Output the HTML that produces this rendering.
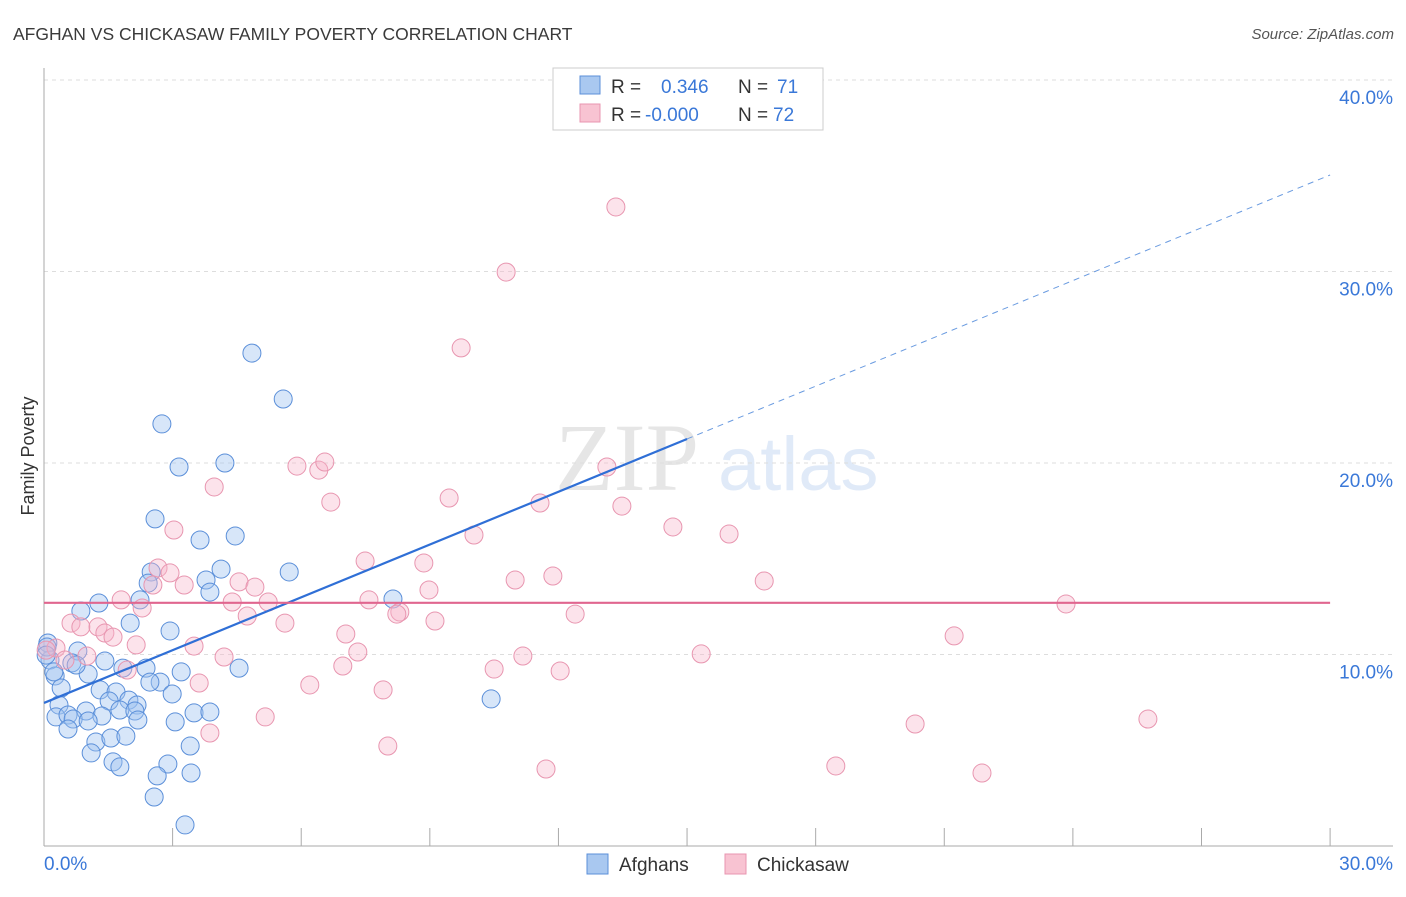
<!DOCTYPE html>
<html><head><meta charset="utf-8"><style>
body{margin:0;background:#fff;font-family:"Liberation Sans",sans-serif;}
</style></head><body>
<svg id="chart" width="1406" height="892" xmlns="http://www.w3.org/2000/svg" font-family="Liberation Sans, sans-serif">
<text x="13" y="40" font-size="17.5" fill="#3a3a3a">AFGHAN VS CHICKASAW FAMILY POVERTY CORRELATION CHART</text>
<text x="1394" y="39" font-size="15" fill="#555" text-anchor="end" font-style="italic">Source: ZipAtlas.com</text>
<g opacity="0.18">
<text x="555" y="490" font-size="96" font-family="Liberation Serif, serif" fill="#777">ZIP</text>
<text x="718" y="490" font-size="76" fill="#5b8fd9">atlas</text>
</g>
<g id="grid"></g>
<g id="axes"></g>
<text transform="translate(34,456) rotate(-90)" font-size="18" fill="#333" text-anchor="middle">Family Poverty</text>
<g id="pts"></g>
<g id="lines"></g>
<g>
<rect x="553" y="68" width="270" height="62" fill="#fff" stroke="#ccc"/>
<rect x="580" y="76" width="20" height="18" fill="#a9c8f0" stroke="#5b8fd9"/>
<rect x="580" y="104" width="20" height="18" fill="#f8c3d2" stroke="#e896b0"/>
<text x="611" y="93" font-size="19" fill="#333">R =</text>
<text x="661" y="93" font-size="19" fill="#3a78d8">0.346</text>
<text x="738" y="93" font-size="19" fill="#333">N =</text>
<text x="777" y="93" font-size="19" fill="#3a78d8">71</text>
<text x="611" y="121" font-size="19" fill="#333">R =</text>
<text x="645" y="121" font-size="19" fill="#3a78d8">-0.000</text>
<text x="738" y="121" font-size="19" fill="#333">N =</text>
<text x="773" y="121" font-size="19" fill="#3a78d8">72</text>
</g>
<g>
<rect x="587" y="854" width="21" height="20" fill="#a9c8f0" stroke="#5b8fd9"/>
<text x="619" y="871" font-size="19" fill="#333">Afghans</text>
<rect x="725" y="854" width="21" height="20" fill="#f8c3d2" stroke="#e896b0"/>
<text x="757" y="871" font-size="19" fill="#333">Chickasaw</text>
</g>
</svg>
<script>
const blueX=[4.85,5.58,2.75,3.15,4.22,2.59,3.64,4.46,2.50,5.72,2.43,4.13,3.78,3.87,1.28,2.24,0.86,2.01,2.94,8.14,0.09,0.79,1.42,0.14,0.65,1.84,2.38,3.20,4.55,0.26,1.03,1.31,2.71,0.40,1.68,1.98,2.99,1.52,2.17,10.43,0.35,1.77,2.12,3.50,3.87,2.19,0.98,1.35,0.28,0.56,0.68,1.03,3.06,0.56,1.21,1.56,1.91,1.10,3.41,1.61,1.77,2.89,2.64,3.43,2.57,3.29,0.07,0.05,0.23,0.75,2.47];
const blueY=[25.74,23.34,22.04,19.79,20.0,17.08,15.98,16.19,14.31,14.31,13.73,14.46,13.89,13.26,12.69,12.85,12.27,11.64,11.23,12.90,10.60,10.18,9.66,9.71,9.56,9.29,9.29,9.09,9.29,8.88,8.98,8.15,8.56,8.25,8.04,7.62,7.94,7.57,7.36,7.68,7.36,7.10,7.05,6.95,7.00,6.58,7.05,6.79,6.74,6.84,6.63,6.53,6.48,6.11,5.43,5.64,5.74,4.86,5.22,4.39,4.13,4.28,3.66,3.81,2.56,1.10,10.39,9.97,9.09,9.45,8.56];
const pinkX=[13.34,10.78,9.73,13.13,5.90,6.41,6.55,3.97,9.45,6.69,11.57,13.48,3.03,10.03,14.67,15.98,7.49,8.86,2.66,2.94,11.87,10.99,16.80,3.27,2.54,4.55,4.92,8.98,1.80,2.29,4.39,5.23,7.58,23.84,8.30,8.23,0.63,0.86,1.26,1.42,1.61,12.39,9.12,5.62,4.74,7.04,21.23,2.15,3.50,0.28,0.05,7.32,0.49,1.00,4.20,11.17,15.33,6.97,10.50,12.04,1.94,6.20,3.62,7.91,5.16,3.87,25.75,20.32,8.02,11.71,18.47,21.88];
const pinkY=[33.37,29.97,26.01,19.79,19.84,19.63,20.05,18.75,18.17,17.96,17.91,17.75,16.50,16.24,16.66,16.29,14.88,14.78,14.52,14.26,14.10,13.89,13.84,13.63,13.63,13.79,13.52,13.37,12.85,12.43,12.74,12.74,12.85,12.64,12.22,12.11,11.64,11.44,11.44,11.12,10.91,12.11,11.75,11.64,12.01,11.07,10.97,10.50,10.44,10.34,10.23,10.13,9.71,9.92,9.87,9.92,10.03,9.40,9.24,9.14,9.19,8.41,8.51,8.15,6.74,5.90,6.63,6.37,5.22,4.02,4.18,3.81];
const blueTrend=[7.47,0.919];
const pinkTrend=[12.7,0];
const yTicks=[10,20,30,40];
const yTickLabels=["10.0%","20.0%","30.0%","40.0%"];
const xTicks=[3,6,9,12,15,18,21,24,27,30];
const X=v=>44+v*42.87, Y=v=>846-v*19.15;
const NS="http://www.w3.org/2000/svg";
function mk(tag,at,parent){const e=document.createElementNS(NS,tag);for(const k in at)e.setAttribute(k,at[k]);parent.appendChild(e);return e;}
const grid=document.getElementById('grid'),axes=document.getElementById('axes'),pts=document.getElementById('pts'),lines=document.getElementById('lines');
yTicks.forEach((t,i)=>{
 const l=mk('line',{x1:44,x2:1393,y1:Y(t),y2:Y(t),stroke:'#ddd','stroke-dasharray':'4,4'},grid);
 
 
 const tx=mk('text',{x:1393,y:Y(t)+24,'font-size':19,fill:'#3a78d8','text-anchor':'end'},axes);
 tx.textContent=yTickLabels[i];
 
 
});
const ax=mk('line',{x1:44,x2:44,y1:68,y2:846,stroke:'#aaa'},axes);


const bx=mk('line',{x1:44,x2:1393,y1:846,y2:846,stroke:'#aaa'},axes);


xTicks.forEach(t=>{const l=mk('line',{x1:X(t),x2:X(t),y1:828,y2:846,stroke:'#aaa'},axes);
 
 });
const x0=mk('text',{x:44,y:870,'font-size':19,fill:'#3a78d8'},axes);x0.textContent='0.0%';


const x1=mk('text',{x:1393,y:870,'font-size':19,fill:'#3a78d8','text-anchor':'end'},axes);x1.textContent='30.0%';


blueX.forEach((v,i)=>{const c=mk('circle',{cx:X(v),cy:Y(blueY[i]),r:9,fill:'rgba(160,196,240,0.42)',stroke:'#5b8fd9','stroke-width':1},pts);
 
 });
pinkX.forEach((v,i)=>{const c=mk('circle',{cx:X(v),cy:Y(pinkY[i]),r:9,fill:'rgba(246,182,202,0.38)',stroke:'#e896b0','stroke-width':1},pts);
 
 });
const bl=mk('line',{x1:X(0),y1:Y(blueTrend[0]),x2:X(15),y2:Y(blueTrend[0]+blueTrend[1]*15),stroke:'#2f6fd6','stroke-width':2.2},lines);


const bd=mk('line',{x1:X(15),y1:Y(blueTrend[0]+blueTrend[1]*15),x2:X(30),y2:Y(blueTrend[0]+blueTrend[1]*30),stroke:'#6a9be0','stroke-width':1,'stroke-dasharray':'6,5'},lines);


const pl=mk('line',{x1:X(0),y1:Y(pinkTrend[0]),x2:X(30),y2:Y(pinkTrend[0]+pinkTrend[1]*30),stroke:'#e0668f','stroke-width':2.2},lines);


</script>
</body></html>
